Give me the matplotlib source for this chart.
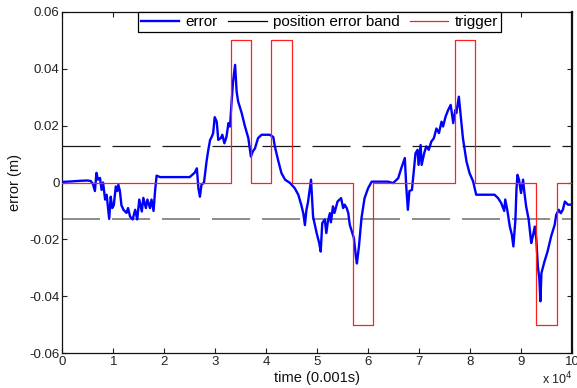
import matplotlib
matplotlib.use("Agg")
import matplotlib.pyplot as plt
from matplotlib.lines import Line2D

plt.rcParams['font.family'] = ['Liberation Sans', 'DejaVu Sans']
plt.rcParams['lines.scale_dashes'] = False

# ---- data (time in units of 10^4 x 0.001 s) ----
err_t = [0.00, 0.20, 0.35, 0.50, 0.56, 0.60, 0.64, 0.67, 0.70, 0.74, 0.77, 0.80, 0.84, 0.87,
         0.92, 0.95, 0.98, 1.01, 1.05, 1.08, 1.10, 1.13, 1.16, 1.20, 1.26, 1.29, 1.33, 1.38,
         1.43, 1.47, 1.51, 1.56, 1.59, 1.64, 1.67, 1.72, 1.75, 1.79, 1.82, 1.85, 1.92, 2.50,
         2.60, 2.64, 2.67, 2.70, 2.73, 2.78, 2.83, 2.86, 2.90, 2.93, 2.96, 2.99, 3.03, 3.06,
         3.11, 3.14, 3.18, 3.22, 3.26, 3.29, 3.32, 3.35, 3.39, 3.42, 3.45, 3.52, 3.58, 3.65,
         3.70, 3.74, 3.78, 3.84, 3.91, 4.07, 4.14, 4.17, 4.24, 4.30, 4.37, 4.47, 4.56, 4.63,
         4.69, 4.73, 4.76, 4.79, 4.82, 4.88, 4.92, 4.99, 5.04, 5.07, 5.10, 5.15, 5.18, 5.21,
         5.25, 5.27, 5.31, 5.34, 5.40, 5.47, 5.51, 5.54, 5.58, 5.61, 5.64, 5.68, 5.72, 5.76,
         5.78, 5.82, 5.87, 5.93, 6.00, 6.07, 6.39, 6.49, 6.59, 6.65, 6.72, 6.75, 6.78, 6.81,
         6.86, 6.90, 6.93, 6.97, 6.99, 7.03, 7.05, 7.10, 7.14, 7.19, 7.24, 7.29, 7.34, 7.39,
         7.44, 7.47, 7.52, 7.57, 7.62, 7.67, 7.71, 7.73, 7.78, 7.83, 7.86, 7.90, 7.93, 7.99,
         8.06, 8.12, 8.48, 8.55, 8.61, 8.67, 8.69, 8.73, 8.78, 8.82, 8.85, 8.89, 8.91, 8.93,
         8.96, 9.00, 9.04, 9.06, 9.10, 9.15, 9.20, 9.23, 9.27, 9.30, 9.33, 9.36, 9.38, 9.40,
         9.46, 9.52, 9.59, 9.66, 9.69, 9.74, 9.78, 9.82, 9.86, 9.92, 10.0]
err_v = [0.0002, 0.0004, 0.0006, 0.0007, 0.0005, -0.0005, -0.003, 0.0034, 0.001, 0.0016,
         -0.0026, 0.0, -0.006, -0.0043, -0.0128, -0.005, -0.009, -0.008, -0.0014, -0.003,
         -0.0008, -0.003, -0.008, -0.0096, -0.0107, -0.009, -0.012, -0.013, -0.0096, -0.013,
         -0.006, -0.0102, -0.0054, -0.009, -0.006, -0.009, -0.006, -0.010, -0.003, 0.0024,
         0.0019, 0.0019, 0.0035, 0.005, -0.002, -0.005, -0.0008, 0.0, 0.0074, 0.011, 0.015,
         0.016, 0.0174, 0.023, 0.0214, 0.015, 0.0156, 0.0168, 0.0138, 0.016, 0.0209, 0.0197,
         0.028, 0.0355, 0.0414, 0.032, 0.0285, 0.0244, 0.020, 0.0156, 0.0091, 0.011, 0.012,
         0.0156, 0.0168, 0.0168, 0.016, 0.0127, 0.0074, 0.0033, 0.001, -0.0002, -0.002,
         -0.0043, -0.008, -0.011, -0.015, -0.0096, -0.007, 0.001, -0.012, -0.0178, -0.0213,
         -0.0243, -0.0143, -0.013, -0.0178, -0.0137, -0.0108, -0.014, -0.0084, -0.0107,
         -0.0067, -0.0055, -0.009, -0.0078, -0.009, -0.0107, -0.0149, -0.0172, -0.0195,
         -0.026, -0.0285, -0.0225, -0.0125, -0.0055, -0.002, 0.0003, 0.0003, -0.0002, 0.0015,
         0.005, 0.0086, -0.002, -0.0096, -0.003, -0.0026, 0.005, 0.0103, 0.0115, 0.0062,
         0.0132, 0.0062, 0.0103, 0.0127, 0.0115, 0.0144, 0.0156, 0.019, 0.0174, 0.0214,
         0.0197, 0.0232, 0.0255, 0.0273, 0.0209, 0.0255, 0.0244, 0.0302, 0.0209, 0.0156,
         0.011, 0.0074, 0.0033, 0.0004, -0.0043, -0.0043, -0.0055, -0.0072, -0.010, -0.006,
         -0.0096, -0.0155, -0.0184, -0.0225, -0.013, -0.0026, 0.0027, 0.001, -0.0037, 0.001,
         -0.0026, -0.0084, -0.013, -0.0213, -0.019, -0.0155, -0.020, -0.0295, -0.034, -0.0418,
         -0.0319, -0.0278, -0.0243, -0.019, -0.0149, -0.0114, -0.0096, -0.0108, -0.0096,
         -0.0067, -0.0078, -0.0078]

trig_edges = [0, 3.3, 3.7, 4.1, 4.5, 5.7, 6.1, 7.7, 8.1, 9.3, 9.7, 10]
trig_vals = [0, 0.05, 0, 0.05, 0, -0.05, 0, 0.05, 0, -0.05, 0]

band = 0.0127
x_ticks = [0, 1, 2, 3, 4, 5, 6, 7, 8, 9, 10]
y_ticks = [-0.06, -0.04, -0.02, 0, 0.02, 0.04, 0.06]
y_labels = ['-0.06', '-0.04', '-0.02', '0', '0.02', '0.04', '0.06']

# ---- figure ----
fig = plt.figure(figsize=(5.77, 3.88), dpi=100)
ax = fig.add_axes([62.3 / 577, 1 - 353 / 388, (572 - 62.3) / 577, (353 - 12) / 388])

ax.plot(err_t, err_v, color='#0000ff', lw=1.7, zorder=3)
dash = (0, (27.4, 8.6))
ax.plot([0, 10], [band, band], color='#1a1a1a', lw=0.9, linestyle=dash, zorder=2)
ax.plot([0, 10], [-band, -band], color='#6e6e6e', lw=1.1, linestyle=dash, zorder=2)
ax.step(trig_edges, trig_vals + [trig_vals[-1]], where='post', color='#ff2020', lw=0.9, zorder=4)

ax.set_xlim(0, 10)
ax.set_ylim(-0.06, 0.06)
ax.set_xticks(x_ticks)
ax.set_xticklabels([str(v) for v in x_ticks])
ax.set_yticks(y_ticks)
ax.set_yticklabels(y_labels)
ax.tick_params(direction='in', length=3.5, width=0.8, top=True, right=True,
               labelsize=9.5, colors='#222222', pad=2)
for s in ax.spines.values():
    s.set_color('#111111')
    s.set_linewidth(0.9)
ax.spines['right'].set_linewidth(1.6)

ax.set_xlabel('time (0.001s)', fontsize=10.5, color='#111111', labelpad=2)
ax.set_ylabel('error (m)', fontsize=10.5, color='#111111')
ax.yaxis.set_label_coords(-0.079, 0.5)
fig.text(573 / 577, 1 - 384 / 388, r'x 10$^4$', ha='right', va='baseline', fontsize=9,
         color='#222222')

handles = [Line2D([], [], color='#0000ff', lw=1.7),
           Line2D([], [], color='black', lw=0.9),
           Line2D([], [], color='#ff2020', lw=0.9)]
leg = ax.legend(handles, ['error', 'position error band', 'trigger'], ncol=3,
                loc='upper left', bbox_to_anchor=((138 - 62.3) / 509.7, 1.0),
                borderaxespad=0, fancybox=False, framealpha=1, edgecolor='black',
                fontsize=11, handlelength=2.5, handletextpad=0.4, columnspacing=0.7,
                borderpad=0.2)
leg.get_frame().set_linewidth(0.9)

fig.savefig('out.png', dpi=100)
